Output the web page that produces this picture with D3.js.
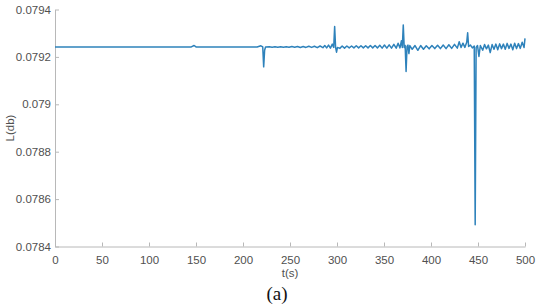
<!DOCTYPE html>
<html>
<head>
<meta charset="utf-8">
<script src="https://cdn.jsdelivr.net/npm/d3@7"></script>
<style>
  body { margin: 0; background: #fff; }
  svg { display: block; font-family: "Liberation Sans", Arial, sans-serif; }
  .axis path, .axis line { stroke: #b8b8b8; }
  .axis text { fill: #505050; }
</style>
</head>
<body>
<div id="chart"></div>
<script>
// signal samples: time (s) and L (db)
const times = [
  0, 145, 148, 150, 215, 219, 221, 222, 223, 224,
  228, 231, 234, 237, 240, 243, 246, 249, 252, 255, 258, 261, 264, 267, 270, 273, 276, 279, 282,
  285, 287, 289, 291, 293, 295, 296.5, 297.5, 298.5, 299.5, 300.5,
  303, 305.5, 308, 310.5, 313, 315.5, 318, 320.5, 323, 325.5, 328, 330.5, 333, 335.5, 338, 340.5,
  343, 345.5, 348, 350.5, 353, 355.5, 358, 360.5, 363, 365, 367, 368.5, 369.5, 370.5, 371.5,
  372.5, 373.5, 374.5, 375.5, 376.5, 377.5,
  380, 383, 386, 389, 392, 395, 398, 401, 404, 407, 410, 413, 416, 419, 422, 425, 428, 430, 432,
  434, 436, 438, 439, 440, 442, 444, 446, 447, 448, 449.5, 451, 452.5,
  455, 457, 459, 461, 463, 465, 467, 469, 471, 473, 475, 477, 479, 481, 483, 485, 487, 489,
  491, 493, 495, 497, 499, 500
];
const levels = [
  0.079242, 0.079242, 0.079248, 0.079242, 0.079242, 0.079247, 0.079242, 0.079158, 0.079228, 0.079242,
  0.079243, 0.079241, 0.079243, 0.079241, 0.079243, 0.079241, 0.079243, 0.079241, 0.079244, 0.079241, 0.079244, 0.079240, 0.079244, 0.079240, 0.079245, 0.079240, 0.079245, 0.079239, 0.079246,
  0.079239, 0.079248, 0.079238, 0.079250, 0.079237, 0.079254, 0.079240, 0.079328, 0.079240, 0.079220, 0.079240,
  0.079236, 0.079246, 0.079237, 0.079246, 0.079238, 0.079246, 0.079238, 0.079247, 0.079238, 0.079247, 0.079238, 0.079247, 0.079238, 0.079248, 0.079238, 0.079248,
  0.079238, 0.079249, 0.079237, 0.079250, 0.079237, 0.079251, 0.079237, 0.079253, 0.079237, 0.079258, 0.079238, 0.079268, 0.079240, 0.079335, 0.079240,
  0.079248, 0.079138, 0.079244, 0.079250, 0.079214, 0.079248,
  0.079232, 0.079248, 0.079228, 0.079248, 0.079232, 0.079247, 0.079234, 0.079248, 0.079235, 0.079249, 0.079235, 0.079250, 0.079235, 0.079251, 0.079236, 0.079253, 0.079237, 0.079264, 0.079240,
  0.079258, 0.079240, 0.079262, 0.079302, 0.079244, 0.079250, 0.079238, 0.079246, 0.078492, 0.079240, 0.079248, 0.079202, 0.079248,
  0.079228, 0.079252, 0.079234, 0.079250, 0.079218, 0.079252, 0.079232, 0.079254, 0.079230, 0.079255, 0.079235, 0.079254, 0.079232, 0.079257, 0.079236, 0.079254, 0.079230, 0.079258,
  0.079235, 0.079256, 0.079236, 0.079262, 0.079240, 0.079278
];
const xTicks = [0, 50, 100, 150, 200, 250, 300, 350, 400, 450, 500];
const yTicks = [0.0784, 0.0786, 0.0788, 0.079, 0.0792, 0.0794];

const width = 550;
const height = 308;
const margin = { top: 9.5, right: 25, bottom: 61.5, left: 55 };
const chartWidth = width - margin.left - margin.right;
const chartHeight = height - margin.top - margin.bottom;

const svg = d3.select("#chart").append("svg")
    .attr("width", width)
    .attr("height", height);

const g = svg.append("g")
    .attr("transform", `translate(${margin.left},${margin.top})`);

const x = d3.scaleLinear().domain([0, 500]).range([0, chartWidth]);
const y = d3.scaleLinear().domain([0.0784, 0.0794]).range([chartHeight, 0]);

// axes: MATLAB style, ticks pointing inward, no box
g.append("g")
    .attr("class", "axis")
    .attr("transform", `translate(0,${chartHeight})`)
    .call(d3.axisBottom(x).tickValues(xTicks).tickSize(-4).tickPadding(9).tickSizeOuter(0))
    .selectAll("text").attr("font-size", "11.5px");

g.append("g")
    .attr("class", "axis")
    .call(d3.axisLeft(y).tickValues(yTicks).tickSize(-4).tickPadding(4).tickSizeOuter(0)
        .tickFormat(d => String(+d.toFixed(4))))
    .selectAll("text").attr("font-size", "11.5px");

g.selectAll(".axis text").attr("font-family", "'Liberation Sans', Arial, sans-serif");

// the signal
const series = times.map((t, i) => ({ t, v: levels[i] }));
g.append("path")
    .datum(series)
    .attr("fill", "none")
    .attr("stroke", "#2e82bb")
    .attr("stroke-width", 1.5)
    .attr("stroke-linejoin", "round")
    .attr("d", d3.line().x(d => x(d.t)).y(d => y(d.v)));

// labels
svg.append("text")
    .attr("x", margin.left + chartWidth / 2)
    .attr("y", 277)
    .attr("text-anchor", "middle")
    .attr("fill", "#505050")
    .style("font-size", "11.5px")
    .text("t(s)");

svg.append("text")
    .attr("transform", "rotate(-90)")
    .attr("x", -(margin.top + chartHeight / 2))
    .attr("y", 14)
    .attr("text-anchor", "middle")
    .attr("fill", "#505050")
    .style("font-size", "11.5px")
    .text("L(db)");

svg.append("text")
    .attr("x", 277)
    .attr("y", 300)
    .attr("text-anchor", "middle")
    .attr("fill", "#111")
    .style("font-family", "'Liberation Serif', 'DejaVu Serif', serif")
    .style("font-size", "19px")
    .text("(a)");
</script>
</body>
</html>
